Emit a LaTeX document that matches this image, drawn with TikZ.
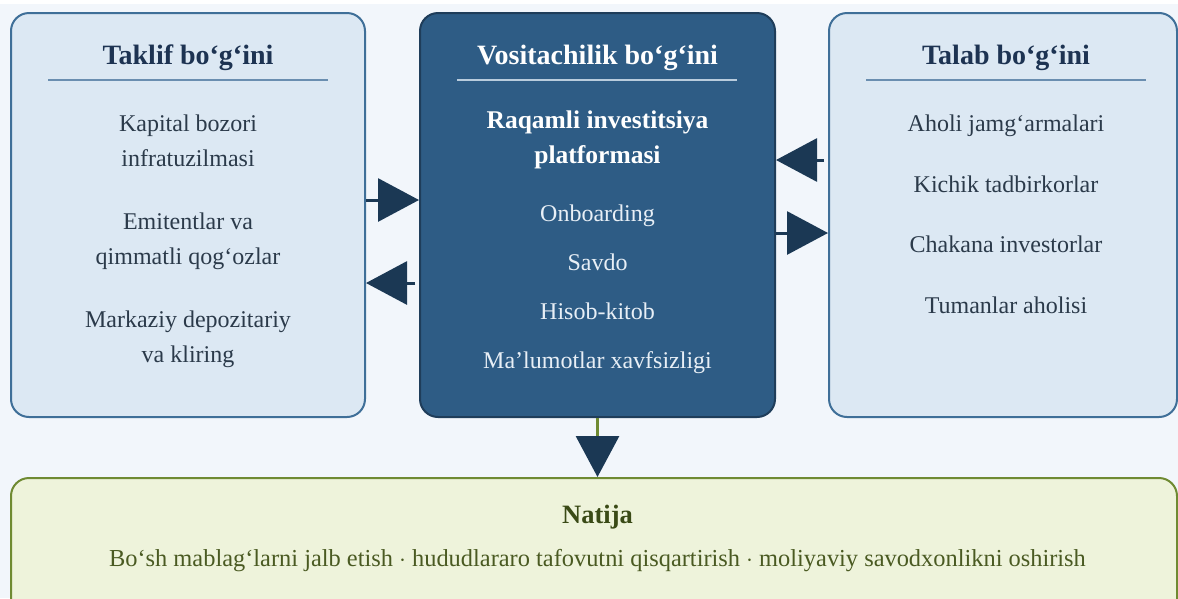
\documentclass[tikz,border=0pt]{standalone}
\usepackage{fontspec}
\setmainfont{Liberation Serif}
\usetikzlibrary{positioning,arrows.meta}
\definecolor{bgpage}{HTML}{F2F6FB}
\definecolor{sidefill}{HTML}{DCE8F3}
\definecolor{sideedge}{HTML}{3F6F98}
\definecolor{sideline}{HTML}{6A8EB0}
\definecolor{midfill}{HTML}{2E5C85}
\definecolor{midedge}{HTML}{1F3D5A}
\definecolor{midline}{HTML}{B9CCDD}
\definecolor{midtext}{HTML}{E8EFF6}
\definecolor{headnavy}{HTML}{1B3854}
\definecolor{titlenavy}{HTML}{1D3352}
\definecolor{bodytext}{HTML}{2B3A4A}
\definecolor{resfill}{HTML}{EEF3DB}
\definecolor{resedge}{HTML}{6F8A32}
\definecolor{restitle}{HTML}{3A4A16}
\definecolor{restext}{HTML}{4A5A22}

\tikzset{
  panel/.style={draw, line width=2pt, rounded corners=18pt, inner sep=0pt},
  sidebox/.style={panel, fill=sidefill, draw=sideedge, minimum width=354pt, minimum height=404pt},
  midbox/.style={panel, fill=midfill, draw=midedge, minimum width=355pt, minimum height=404pt},
  headtext/.style={font=\fontsize{28}{32}\selectfont\bfseries, anchor=base},
  itemtext/.style={font=\fontsize{24}{35}\selectfont, align=center, anchor=base},
  flow/.style={-{Triangle[length=41pt,width=43pt,color=headnavy]}, line width=3pt, draw=headnavy},
}

\begin{document}
\begin{tikzpicture}[x=1pt,y=-1pt]
  \useasboundingbox (0,0) rectangle (1178,598);
  \clip (0,0) rectangle (1178,598);
  %% page
  \fill[white] (0,0) rectangle (1178,598);
  \fill[bgpage] (0,4) rectangle (1178,598);

  %% the three links
  \node[sidebox] (supply) at (188,215) {};
  \node[midbox] (mediator) at (597.5,215) {};
  \node[sidebox, minimum width=348pt] (demand) at (1003,215) {};

  % supply side (two-line items sit on their last baseline)
  \node[headtext, text=titlenavy] (supplyhead) at (188,64) {Taklif bo‘g‘ini};
  \draw[sideline, line width=2pt] (48,80) -- (328,80);
  \node[itemtext, text=bodytext] (sup1) at (188,166) {Kapital bozori\\infratuzilmasi};
  \node[itemtext, text=bodytext] (sup2) at (188,264) {Emitentlar va\\qimmatli qog‘ozlar};
  \node[itemtext, text=bodytext] (sup3) at (188,362) {Markaziy depozitariy\\va kliring};

  % intermediary
  \node[headtext, text=white] (midhead) at (597.5,64) {Vositachilik bo‘g‘ini};
  \draw[midline, line width=2pt] (457,80) -- (737,80);
  \node[itemtext, text=white, font=\fontsize{25.5}{35}\selectfont\bfseries] (platform) at (597.5,163) {Raqamli investitsiya\\platformasi};
  \node[itemtext, text=midtext] (mid1) at (597.5,221) {Onboarding};
  \node[itemtext, text=midtext] (mid2) at (597.5,270) {Savdo};
  \node[itemtext, text=midtext] (mid3) at (597.5,319) {Hisob-kitob};
  \node[itemtext, text=midtext] (mid4) at (597.5,368) {Ma’lumotlar xavfsizligi};

  % demand side
  \node[headtext, text=titlenavy] (demandhead) at (1006,64) {Talab bo‘g‘ini};
  \draw[sideline, line width=2pt] (866,80) -- (1146,80);
  \node[itemtext, text=bodytext] (dem1) at (1006,131) {Aholi jamg‘armalari};
  \node[itemtext, text=bodytext] (dem2) at (1006,192) {Kichik tadbirkorlar};
  \node[itemtext, text=bodytext] (dem3) at (1006,252) {Chakana investorlar};
  \node[itemtext, text=bodytext] (dem4) at (1006,313) {Tumanlar aholisi};

  %% result
  \node[panel, fill=resfill, draw=resedge, minimum width=1166pt, minimum height=140pt] (result) at (594,548) {};
  \node[headtext, text=restitle, font=\fontsize{26.5}{30}\selectfont\bfseries] (resulthead) at (597.5,523) {Natija};
  \node[itemtext, text=restext, font=\fontsize{24.4}{30}\selectfont] (resultline) at (597.5,566) {Bo‘sh mablag‘larni jalb etish $\cdot$ hududlararo tafovutni qisqartirish $\cdot$ moliyaviy savodxonlikni oshirish};

  %% flows
  \draw[flow] (supply.east |- 0,200) -- (mediator.west |- 0,200);
  \draw[flow, shorten <=4pt] (mediator.west |- 0,283) -- (supply.east |- 0,283);
  \draw[flow, shorten <=4pt] (demand.west |- 0,160) -- (mediator.east |- 0,160);
  \draw[flow] (mediator.east |- 0,233) -- (demand.west |- 0,233);
  \draw[flow, draw=resedge] (mediator.south) -- (result.north -| mediator.south);
\end{tikzpicture}
\end{document}
